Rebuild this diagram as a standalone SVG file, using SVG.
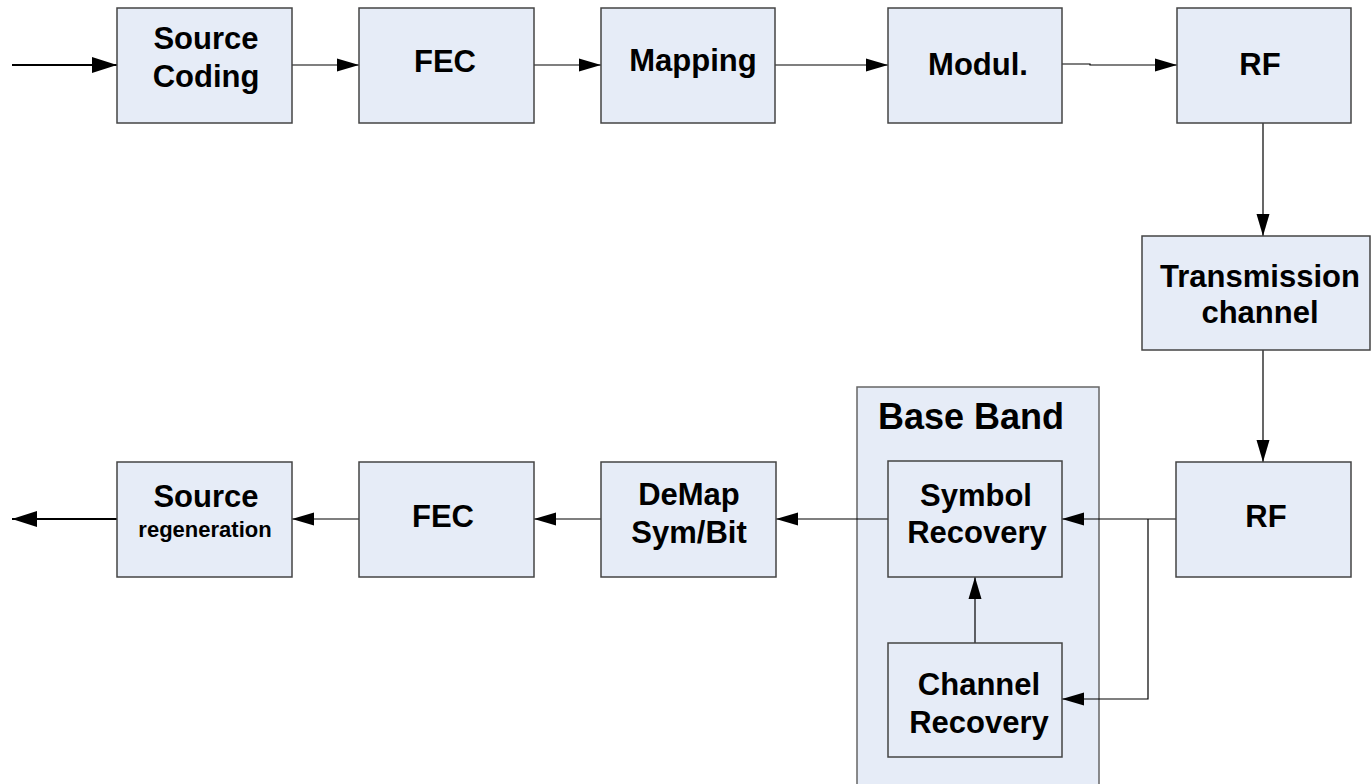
<svg xmlns="http://www.w3.org/2000/svg" width="1371" height="784" viewBox="0 0 1371 784">
<style>
.box{fill:#e6ecf7;stroke:#444;stroke-width:1.5}
.grp{fill:#e6ecf7;stroke:#666;stroke-width:1.5}
.t{font-family:"Liberation Sans",Arial,sans-serif;font-weight:bold;font-size:31px;fill:#000;text-anchor:middle}
.s{font-size:22px}
.bb{font-size:36px}
.c{fill:none;stroke:#000;stroke-width:1.2}
.ct{fill:none;stroke:#000;stroke-width:2.2}
</style>
<defs>
<marker id="a" markerUnits="userSpaceOnUse" markerWidth="22" markerHeight="14" refX="22" refY="7" orient="auto">
<path d="M0,0.5 L22,7 L0,13.5 z" fill="#000"/>
</marker>
<marker id="A" markerUnits="userSpaceOnUse" markerWidth="25" markerHeight="16" refX="25" refY="8" orient="auto">
<path d="M0,0 L25,8 L0,16 z" fill="#000"/>
</marker>
</defs>
<rect width="1371" height="784" fill="#fff"/>

<g id="baseband">
<rect class="grp" x="857" y="387" width="242" height="420"/>
<text class="t bb" x="971" y="429">Base Band</text>
</g>

<g id="connectors">
<line class="ct" x1="12" y1="65" x2="117" y2="65" marker-end="url(#A)"/>
<line class="c" x1="292" y1="65" x2="359" y2="65" marker-end="url(#a)"/>
<line class="c" x1="534" y1="65" x2="601" y2="65" marker-end="url(#a)"/>
<line class="c" x1="775" y1="65" x2="888" y2="65" marker-end="url(#a)"/>
<polyline class="c" points="1062,64 1090,64 1090,65 1177,65" marker-end="url(#a)"/>
<line class="c" x1="1263" y1="123" x2="1263" y2="236" marker-end="url(#a)"/>
<line class="c" x1="1263" y1="350" x2="1263" y2="462" marker-end="url(#a)"/>
<line class="c" x1="1176" y1="519" x2="1062" y2="519" marker-end="url(#a)"/>
<polyline class="c" points="1148,519 1148,699 1062,699" marker-end="url(#a)"/>
<line class="c" x1="975" y1="643" x2="975" y2="577" marker-end="url(#a)"/>
<line class="c" x1="888" y1="519" x2="776" y2="519" marker-end="url(#a)"/>
<line class="c" x1="601" y1="519" x2="534" y2="519" marker-end="url(#a)"/>
<line class="c" x1="359" y1="519" x2="292" y2="519" marker-end="url(#a)"/>
<line class="ct" x1="117" y1="519" x2="12" y2="519" marker-end="url(#A)"/>
</g>

<g id="source-coding">
<rect class="box" x="117" y="8" width="175" height="115"/>
<text class="t" x="206" y="49">Source</text>
<text class="t" x="206" y="87">Coding</text>
</g>
<g id="fec-tx">
<rect class="box" x="359" y="8" width="175" height="115"/>
<text class="t" x="445" y="72">FEC</text>
</g>
<g id="mapping">
<rect class="box" x="601" y="8" width="174" height="115"/>
<text class="t" x="693" y="71">Mapping</text>
</g>
<g id="modul">
<rect class="box" x="888" y="8" width="174" height="115"/>
<text class="t" x="978" y="75">Modul.</text>
</g>
<g id="rf-tx">
<rect class="box" x="1177" y="8" width="174" height="115"/>
<text class="t" x="1260" y="75">RF</text>
</g>
<g id="transmission-channel">
<rect class="box" x="1142" y="236" width="228" height="114"/>
<text class="t" x="1260" y="287">Transmission</text>
<text class="t" x="1260" y="323">channel</text>
</g>
<g id="rf-rx">
<rect class="box" x="1176" y="462" width="175" height="115"/>
<text class="t" x="1266" y="527">RF</text>
</g>
<g id="symbol-recovery">
<rect class="box" x="888" y="461" width="174" height="116"/>
<text class="t" x="976" y="506">Symbol</text>
<text class="t" x="977" y="543">Recovery</text>
</g>
<g id="channel-recovery">
<rect class="box" x="888" y="643" width="174" height="114"/>
<text class="t" x="979" y="695">Channel</text>
<text class="t" x="979" y="733">Recovery</text>
</g>
<g id="demap">
<rect class="box" x="601" y="462" width="175" height="115"/>
<text class="t" x="689" y="505">DeMap</text>
<text class="t" x="689" y="543">Sym/Bit</text>
</g>
<g id="fec-rx">
<rect class="box" x="359" y="462" width="175" height="115"/>
<text class="t" x="443" y="527">FEC</text>
</g>
<g id="source-regeneration">
<rect class="box" x="117" y="462" width="175" height="115"/>
<text class="t" x="206" y="507">Source</text>
<text class="t s" x="205" y="537">regeneration</text>
</g>
</svg>
